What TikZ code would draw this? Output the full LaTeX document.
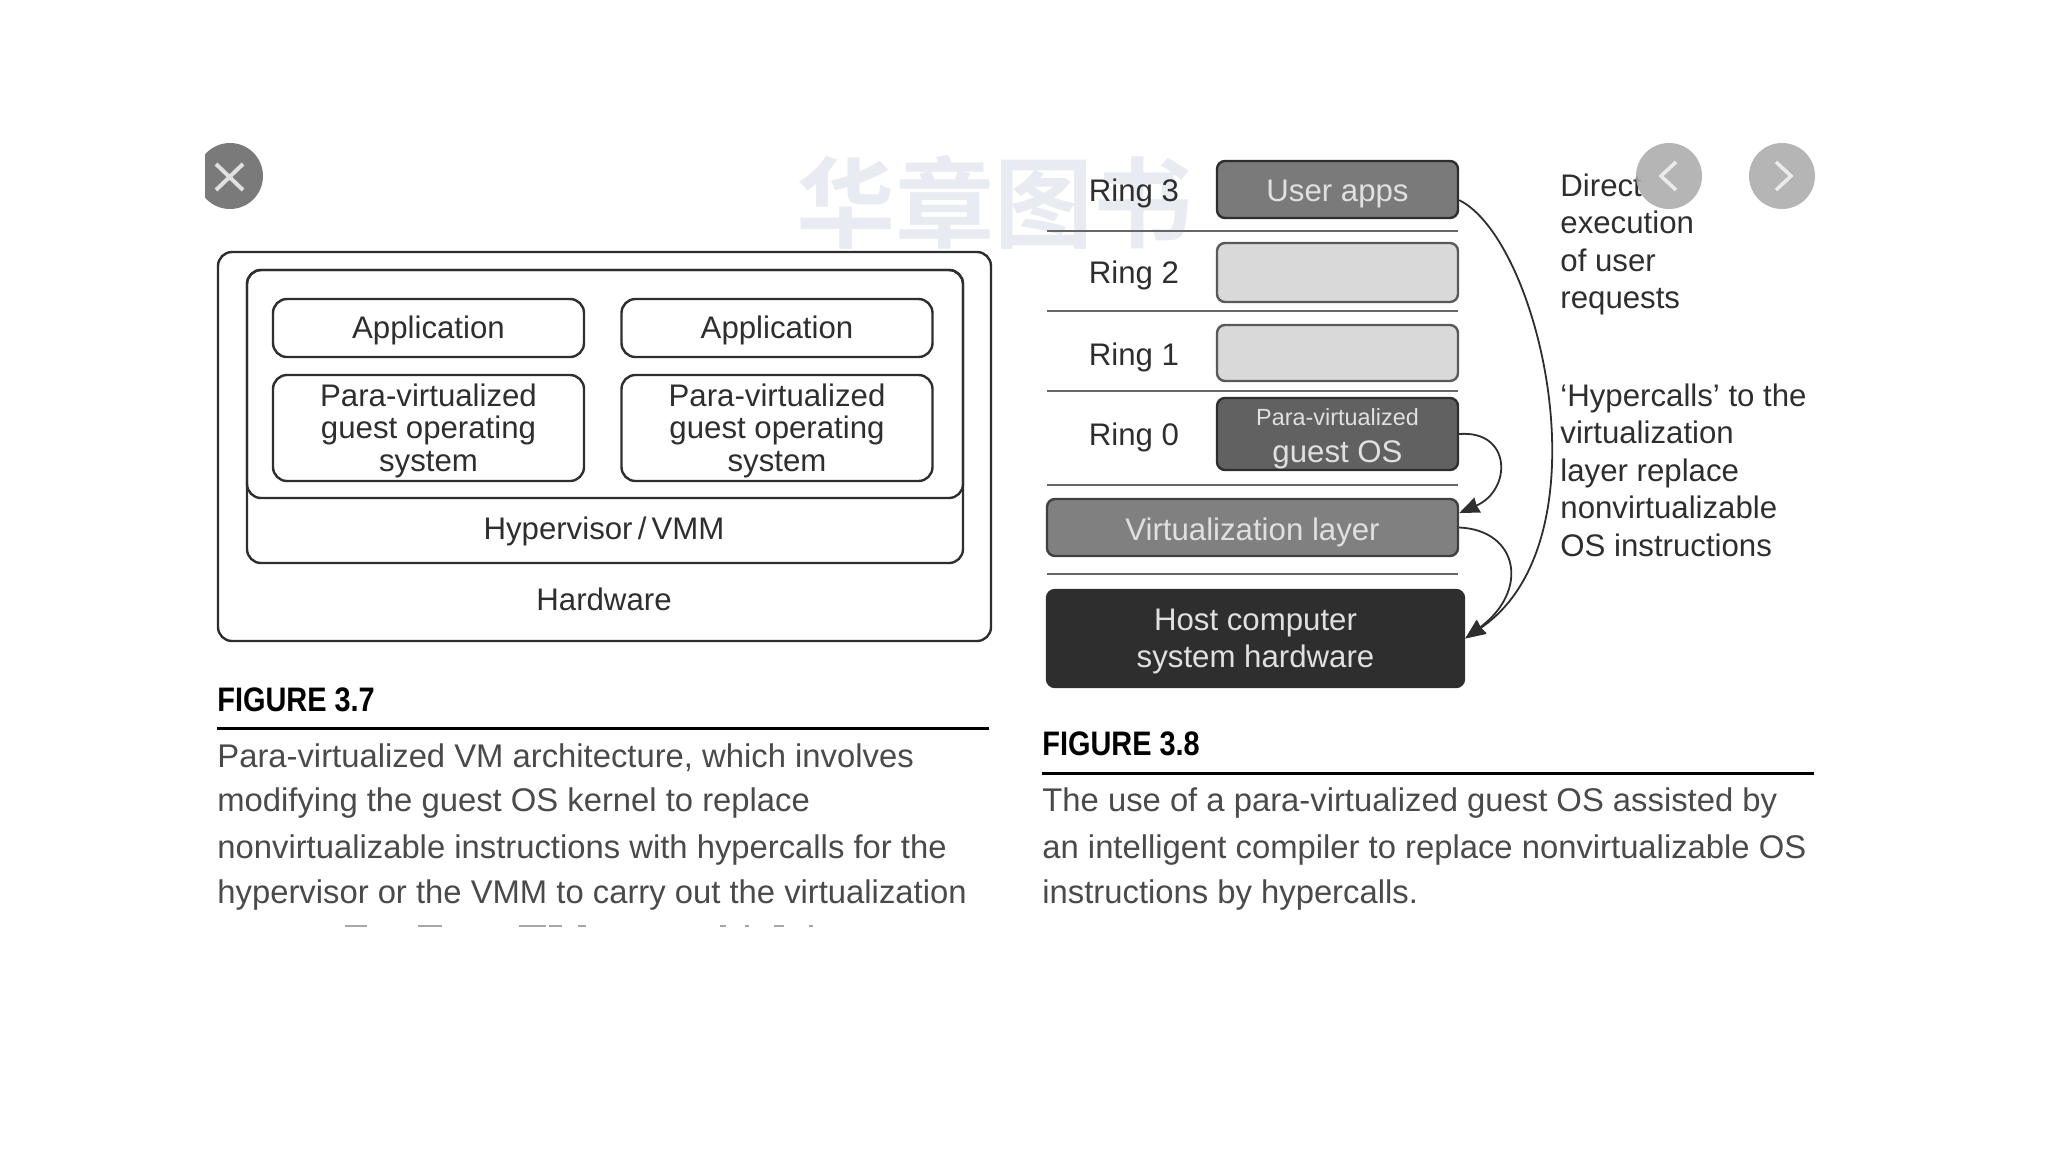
\documentclass[tikz,border=0pt]{standalone}
\usepackage{fontspec}
\usepackage{xcolor}
\setmainfont{Liberation Sans}
\newfontfamily\capfont[FakeStretch=0.85]{Liberation Sans Bold}
\newfontfamily\cjk{Noto Sans CJK SC Bold}
\usetikzlibrary{arrows.meta}
\definecolor{inkdark}{HTML}{2E2E2E}
\definecolor{bodygrey}{HTML}{4A4A4A}
\definecolor{mark}{HTML}{E9EBF2}
\newcommand{\bodysize}{\fontsize{15.6}{18.8}\selectfont}
\newcommand{\dropline}[1]{\rule{0pt}{#1}}
\begin{document}
\begin{tikzpicture}[
    x=0.5pt, y=-0.5pt,
    box/.style={rectangle, draw=inkdark, line width=1.2pt, rounded corners=7pt, align=center, inner sep=0pt, text=inkdark, font=\fontsize{15.6}{16.3}\selectfont},
    ringbox/.style={box, rounded corners=4pt, font=\fontsize{15.6}{18.3}\selectfont, text=white!88!black},
    label/.style={inner sep=0pt, text=inkdark, font=\bodysize},
    side/.style={label, align=left, anchor=north west},
    capline/.style={inner sep=0pt, anchor=base west, text=bodygrey, font=\fontsize{16.4}{18}\selectfont},
    caphead/.style={inner sep=0pt, anchor=base west, text=black, font=\capfont\fontsize{17}{19}\selectfont},
    sep/.style={draw=black!60, line width=1pt},
    rule/.style={draw=black, line width=1.5pt},
    call/.style={->, draw=inkdark, line width=0.9pt},
  ]
\tikzset{>={Stealth[length=10pt, width=8pt, inset=0.5pt]}}
\useasboundingbox (0,0) rectangle (2048,1152);

  \node[inner sep=0pt, text=mark, font=\cjk\fontsize{49.5}{49.5}\selectfont] (mark) at (994,202) {华章图书};

  \node[box, minimum width=386.5pt, minimum height=194.5pt] (hw) at (604.5,446.5) {};
  \node[box, minimum width=358pt, minimum height=146.5pt] (vmm) at (605,416.5) {};
  \node[box, minimum width=358pt, minimum height=114pt] (guest) at (605,384) {};
  \node[box, minimum width=155.5pt, minimum height=29pt] (app1) at (428.5,328) {\dropline{14pt}Application};
  \node[box, minimum width=155.5pt, minimum height=29pt] (app2) at (777,328) {\dropline{14pt}Application};
  \node[box, minimum width=155.5pt, minimum height=53pt] (os1) at (428.5,428) {\dropline{14pt}Para-virtualized\\guest operating\\system};
  \node[box, minimum width=155.5pt, minimum height=53pt] (os2) at (777,428) {\dropline{14pt}Para-virtualized\\guest operating\\system};
  \node[label] (vmmtext) at (604,531.5) {Hypervisor\,/\,VMM};
  \node[label] (hwtext) at (604,599) {Hardware};

  \node[caphead] (cap7) at (217,711) {FIGURE 3.7};
  \draw[rule] (217,728) -- (989,728);
  \node[capline] (p1) at (217,767) {Para-virtualized VM architecture, which involves};
  \node[capline] (p2) at (217,811) {modifying the guest OS kernel to replace};
  \node[capline] (p3) at (217,858) {nonvirtualizable instructions with hypercalls for the};
  \node[capline] (p4) at (217,903) {hypervisor or the VMM to carry out the virtualization};
  \foreach \a/\b in {345/367, 418/442, 519/546, 549/562, 578/586, 720/726, 745/749, 774/784, 809/813}
    \draw[draw=black!35, line width=0.8pt] (\a,926) -- (\b,926);

  \node[label] (r3) at (1134,193.5) {Ring 3};
  \node[label] (r2) at (1134,275.5) {Ring 2};
  \node[label] (r1) at (1134,357.5) {Ring 1};
  \node[label] (r0) at (1134,437.5) {Ring 0};

  \node[ringbox, fill=black!52, minimum width=120.5pt, minimum height=28.5pt] (apps) at (1337.5,189.5) {\dropline{15.5pt}User apps};
  \node[ringbox, fill=black!15, draw=black!65, minimum width=120.5pt, minimum height=29.5pt] (ring2) at (1337.5,272.5) {};
  \node[ringbox, fill=black!15, draw=black!65, minimum width=120.5pt, minimum height=28pt] (ring1) at (1337.5,353) {};
  \node[ringbox, fill=black!62, minimum width=120.5pt, minimum height=36pt] (pvos) at (1337.5,434) {\dropline{13.5pt}{\fontsize{11.7}{14}\selectfont Para-virtualized}\\guest OS};
  \node[ringbox, fill=black!50, draw=black!75, minimum width=205.5pt, minimum height=28.5pt] (virt) at (1252.5,527.5) {\dropline{16.5pt}Virtualization layer};
  \node[ringbox, fill=black!82, draw=black!82, minimum width=208.5pt, minimum height=48.5pt] (host) at (1255.5,638.5) {\dropline{14pt}Host computer\\system hardware};

  \draw[sep] (1047,231) -- (1458,231);
  \draw[sep] (1047,311) -- (1458,311);
  \draw[sep] (1047,391) -- (1458,391);
  \draw[sep] (1047,485) -- (1458,485);
  \draw[sep] (1047,574) -- (1458,574);

  \draw[call] (apps.-5) .. controls (1540,240) and (1610,540) .. (host.east);
  \draw[call] (pvos.east) .. controls (1512,430) and (1512,490) .. (virt.4);
  \draw[call] (virt.east) .. controls (1518,530) and (1530,590) .. (host.east);

  \node[side] (direct) at (1560,173) {Direct\\execution\\of user\\requests};
  \node[side] (hyper) at (1560,383) {‘Hypercalls’ to the\\virtualization\\layer replace\\nonvirtualizable\\OS instructions};

  \node[caphead] (cap8) at (1042,755) {FIGURE 3.8};
  \draw[rule] (1042,773) -- (1814,773);
  \node[capline] (q1) at (1042,811) {The use of a para-virtualized guest OS assisted by};
  \node[capline] (q2) at (1042,858) {an intelligent compiler to replace nonvirtualizable OS};
  \node[capline] (q3) at (1042,903) {instructions by hypercalls.};

  \begin{scope}
    \clip (205,130) rectangle (270,220);
    \fill[black!52] (230,176) circle [radius=33];
  \end{scope}
  \draw[white!88!black, line width=2pt] (216,164) -- (243,190) (243,164) -- (216,190);

  \fill[black!32, opacity=0.9] (1669,176) circle [radius=33];
  \draw[white!92!black, line width=1.8pt] (1676,162) -- (1661,176) -- (1676,190);
  \begin{scope}
    \clip (1740,130) rectangle (1815,220);
    \fill[black!32, opacity=0.9] (1782,176) circle [radius=33];
  \end{scope}
  \draw[white!92!black, line width=1.8pt] (1776,162) -- (1791,176) -- (1776,190);

  \end{tikzpicture}
\end{document}
